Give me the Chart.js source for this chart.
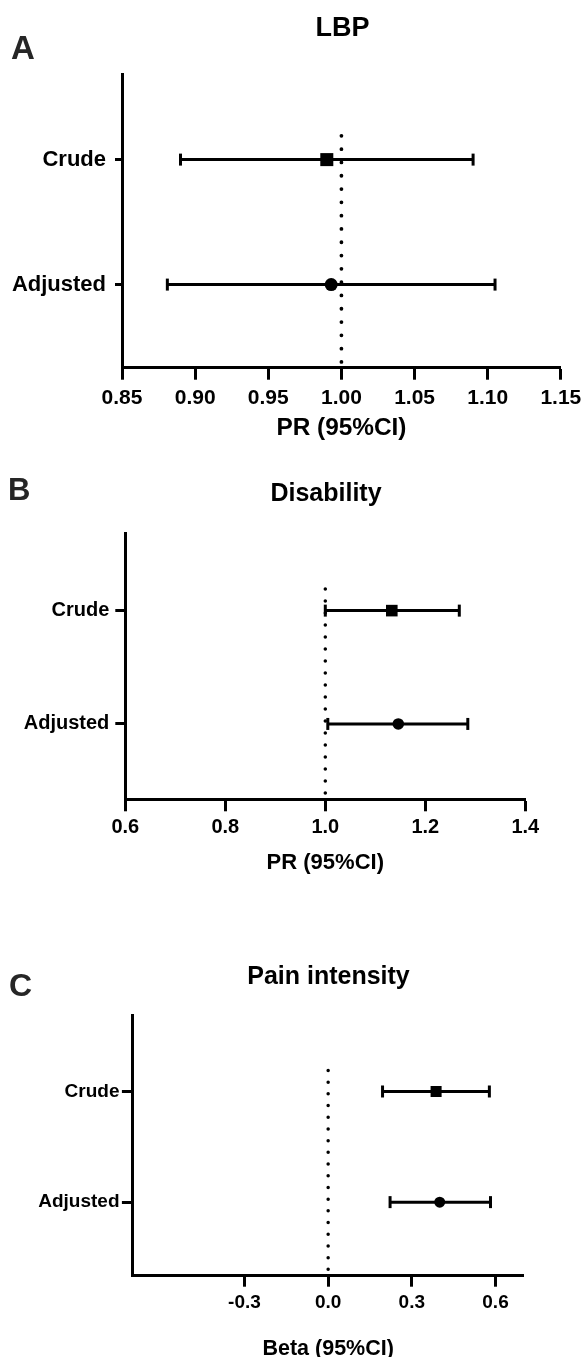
<!DOCTYPE html>
<html>
<head>
<meta charset="utf-8">
<script src="https://cdn.jsdelivr.net/npm/chart.js@4.4.1/dist/chart.umd.min.js"></script>
<style>
  html, body { margin: 0; padding: 0; background: #fff; overflow: hidden; }
  #wrap { position: relative; width: 587px; height: 1357px; overflow: hidden; }
  canvas { position: absolute; left: 0; }
  .letter, .ttl { position: absolute; font-family: "Liberation Sans", Arial, sans-serif; font-weight: bold; line-height: 1; }
  .letter { color: #262626; }
  .ttl { color: #000; width: 300px; text-align: center; white-space: nowrap; }
</style>
</head>
<body>
<div id="wrap">
  <canvas id="chartA" width="587" height="450" style="top:0px"></canvas>
  <canvas id="chartB" width="587" height="430" style="top:450px"></canvas>
  <canvas id="chartC" width="587" height="440" style="top:930px"></canvas>
  <div class="letter" style="left:11px;top:31px;font-size:33px">A</div>
  <div class="letter" style="left:8px;top:474px;font-size:31px">B</div>
  <div class="letter" style="left:9px;top:969px;font-size:32px">C</div>
  <div class="ttl" style="left:192.6px;top:13.8px;font-size:27px">LBP</div>
  <div class="ttl" style="left:176px;top:479.5px;font-size:25px">Disability</div>
  <div class="ttl" style="left:178.5px;top:962.8px;font-size:25px">Pain intensity</div>
</div>
<script>
// rows of every forest plot, Crude on top
const rows = ["Crude", "Adjusted"];
const rowPos = [1, 0];

// A - LBP, prevalence ratio
const lbpEst = [0.990, 0.993];
const lbpLow = [0.890, 0.881];
const lbpHigh = [1.090, 1.105];
const lbpTicks = [0.85, 0.90, 0.95, 1.00, 1.05, 1.10, 1.15];

// B - Disability, prevalence ratio
const disEst = [1.133, 1.146];
const disLow = [1.000, 1.005];
const disHigh = [1.268, 1.285];
const disTicks = [0.6, 0.8, 1.0, 1.2, 1.4];

// C - Pain intensity, beta
const painEst = [0.387, 0.400];
const painLow = [0.195, 0.222];
const painHigh = [0.578, 0.582];
const painTicks = [-0.3, 0.0, 0.3, 0.6];

Chart.defaults.font.family = "'Liberation Sans', Arial, sans-serif";
Chart.defaults.font.weight = "bold";
Chart.defaults.color = "#000";

const Y_MIN = -0.665;
const Y_MAX = 1.685;
const REF_TOP = 1.19;

function makePanel(p) {
  const ctx = document.getElementById(p.id).getContext("2d");

  let markers = [];
  for (let i = 0; i < rows.length; i++) {
    markers.push({ x: p.est[i], y: rowPos[i] });
  }

  // first dataset is drawn on top
  let datasets = [
    {
      data: markers,
      showLine: false,
      pointStyle: ["rect", "circle"],
      pointRadius: [p.sq, p.dot],
      pointBackgroundColor: "#000",
      pointBorderColor: "#000",
      pointBorderWidth: 0,
      clip: false,
    },
  ];

  for (let i = 0; i < rows.length; i++) {
    datasets.push({
      data: [
        { x: p.low[i], y: rowPos[i] },
        { x: p.high[i], y: rowPos[i] },
      ],
      showLine: true,
      borderColor: "#000",
      borderWidth: 3,
      pointStyle: "line",
      pointRotation: 90,
      pointRadius: 6,
      pointBorderWidth: 3,
      pointBorderColor: "#000",
      clip: false,
    });
  }

  // dotted line of no effect
  datasets.push({
    data: [
      { x: p.ref, y: REF_TOP },
      { x: p.ref, y: Y_MIN },
    ],
    showLine: true,
    borderColor: "#000",
    borderWidth: p.dotW,
    borderDash: [0, p.dotGap],
    borderCapStyle: "round",
    pointRadius: 0,
    clip: false,
  });

  return new Chart(ctx, {
    type: "scatter",
    data: { datasets: datasets },
    options: {
      responsive: false,
      animation: false,
      events: [],
      layout: { padding: { left: 0, right: p.right, top: p.top, bottom: 0 } },
      plugins: {
        legend: { display: false },
        tooltip: { enabled: false },
      },
      scales: {
        x: {
          type: "linear",
          min: p.xMin,
          max: p.xMax,
          afterBuildTicks: function (axis) {
            axis.ticks = p.ticks.map(function (v) { return { value: v }; });
          },
          ticks: {
            autoSkip: false,
            maxRotation: 0,
            padding: p.xTickPad,
            font: { size: p.xTickSize, weight: "bold" },
            callback: function (v) { return v.toFixed(p.dec); },
          },
          grid: { drawOnChartArea: false, tickLength: p.xTickLen, tickWidth: 3, color: "#000" },
          border: { display: true, width: 3, color: "#000" },
          title: {
            display: true,
            text: p.xTitle,
            color: "#000",
            font: { size: p.xTitleSize, weight: "bold" },
            padding: { top: 0, bottom: p.xTitlePad },
          },
          afterFit: function (scale) {
            scale.height = p.height - p.bottom;
          },
        },
        y: {
          type: "linear",
          min: Y_MIN,
          max: Y_MAX,
          afterBuildTicks: function (axis) {
            axis.ticks = rowPos.map(function (v) { return { value: v }; });
          },
          ticks: {
            padding: p.yTickPad,
            font: { size: p.yTickSize, weight: "bold" },
            callback: function (v) { return rows[rowPos.indexOf(v)]; },
          },
          grid: { drawOnChartArea: false, tickLength: p.yTickLen, tickWidth: 3, color: "#000" },
          border: { display: true, width: 3, color: "#000" },
          afterFit: function (scale) {
            scale.width = p.left;
          },
        },
      },
    },
  });
}

makePanel({
  id: "chartA", height: 450, left: 122, right: 24.4, top: 74, bottom: 367.7,
  est: lbpEst, low: lbpLow, high: lbpHigh, ref: 1.0,
  xMin: 0.85, xMax: 1.15, ticks: lbpTicks, dec: 2,
  xTickSize: 21, xTickPad: 5.7, xTickLen: 12,
  xTitle: "PR (95%CI)", xTitleSize: 24.4, xTitlePad: 7.4,
  yTickSize: 22, yTickPad: 9, yTickLen: 7,
  sq: 9.2, dot: 6.5, dotW: 3.8, dotGap: 13.3,
});

makePanel({
  id: "chartB", height: 430, left: 125.3, right: 61.7, top: 83, bottom: 349.3,
  est: disEst, low: disLow, high: disHigh, ref: 1.0,
  xMin: 0.6, xMax: 1.4, ticks: disTicks, dec: 1,
  xTickSize: 20, xTickPad: 4.4, xTickLen: 12,
  xTitle: "PR (95%CI)", xTitleSize: 22, xTitlePad: 3.5,
  yTickSize: 20, yTickPad: 6, yTickLen: 10,
  sq: 8.2, dot: 5.8, dotW: 3.5, dotGap: 12,
});

makePanel({
  id: "chartC", height: 440, left: 132.9, right: 63.6, top: 85.7, bottom: 345.7,
  est: painEst, low: painLow, high: painHigh, ref: 0.0,
  xMin: -0.7, xMax: 0.7, ticks: painTicks, dec: 1,
  xTickSize: 19, xTickPad: 4.6, xTickLen: 11,
  xTitle: "Beta (95%CI)", xTitleSize: 21.5, xTitlePad: 8.5,
  yTickSize: 19, yTickPad: 2.4, yTickLen: 11,
  sq: 7.8, dot: 5.5, dotW: 3.5, dotGap: 11.7,
});
</script>
</body>
</html>
